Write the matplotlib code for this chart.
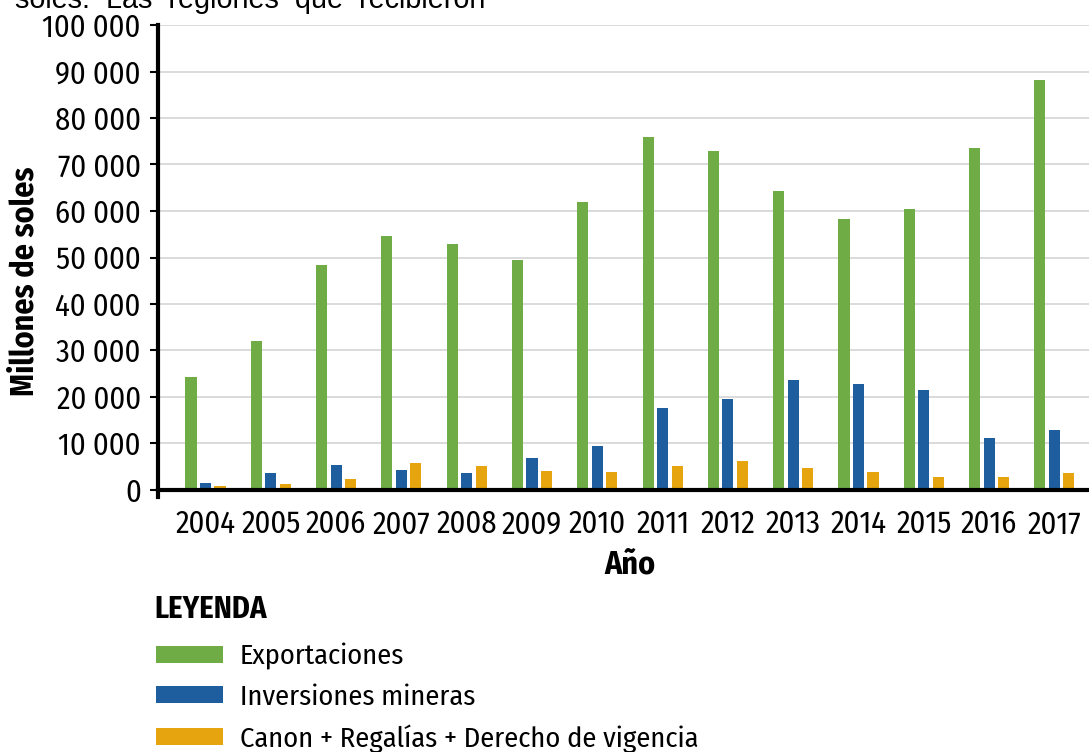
import numpy as np
import matplotlib
matplotlib.use("Agg")
import matplotlib.pyplot as plt

plt.rcParams['font.family'] = ['Fira Sans Condensed', 'Liberation Sans Narrow', 'DejaVu Sans']

years = ['2004', '2005', '2006', '2007', '2008', '2009', '2010',
         '2011', '2012', '2013', '2014', '2015', '2016', '2017']
exportaciones = [24300, 32100, 48300, 54700, 53000, 49500, 62000,
                 76000, 73000, 64400, 58200, 60400, 73600, 88100]
inversiones = [1400, 3700, 5300, 4300, 3700, 6900, 9500,
               17600, 19600, 23600, 22900, 21600, 11200, 13000]
canon = [800, 1200, 2400, 5900, 5200, 4100, 3800,
         5200, 6200, 4700, 3800, 2800, 2800, 3700]

series_names = ['Exportaciones', 'Inversiones mineras',
                'Canon + Regalías + Derecho de vigencia']
colors = ['#6fac46', '#1f5e9e', '#e6a50e']

W, H = 1089, 752
fig = plt.figure(figsize=(W / 100, H / 100), dpi=100)
ax = fig.add_axes([157.5 / W, 1 - 490 / H, 1 - 157.5 / W, 465 / H])

x = np.arange(len(years))
bw = 0.17
off = 0.222
bars = []
for i, vals in enumerate([exportaciones, inversiones, canon]):
    b = ax.bar(x + (i - 1) * off, vals, width=bw, color=colors[i],
               label=series_names[i], zorder=3)
    bars.append(b)

ax.set_xlim(-0.735, 13.53)
ax.set_ylim(0, 100000)
yt = np.arange(0, 100001, 10000)
ax.set_yticks(yt)
ax.set_yticklabels([f"{v:,}".replace(",", " ") for v in yt], fontsize=22)
ax.set_xticks(x)
ax.set_xticklabels(years, fontsize=22)
ax.tick_params(axis='x', length=0, pad=14)
ax.tick_params(axis='y', length=6, width=1.5, pad=6)

ax.yaxis.grid(True, color='#d4d4d4', linewidth=1.2, zorder=0)
ax.set_axisbelow(True)
for s in ['top', 'right']:
    ax.spines[s].set_visible(False)
ax.spines['left'].set_linewidth(3)
ax.spines['bottom'].set_linewidth(3)
ax.spines['bottom'].set_zorder(4)
ax.spines['left'].set_bounds(-1500, 100000)

fig.text(629.5 / W, 1 - 565 / H, 'Año', fontsize=23, fontweight='bold',
         ha='center', va='center')
fig.text(25 / W, 1 - 281 / H, 'Millones de soles', fontsize=23,
         fontweight='bold', rotation=90, ha='center', va='center')
fig.text(154 / W, 1 - 610 / H, 'LEYENDA', fontsize=22, fontweight='bold',
         ha='left', va='center')

# cropped text from the page above the chart
fig.text(15 / W, 1 - 7.5 / H, 'soles.  Las  regiones  que  recibieron',
         fontsize=20.7, family='Liberation Sans', ha='left', va='baseline')

fig.legend(handles=bars, labels=series_names, loc='upper left',
           bbox_to_anchor=(156 / W, 1 - 643 / H), frameon=False,
           fontsize=20.5, handlelength=2.35, handleheight=0.56,
           handletextpad=0.6, labelspacing=0.48, borderpad=0,
           borderaxespad=0)

fig.savefig('out.png', dpi=100)
